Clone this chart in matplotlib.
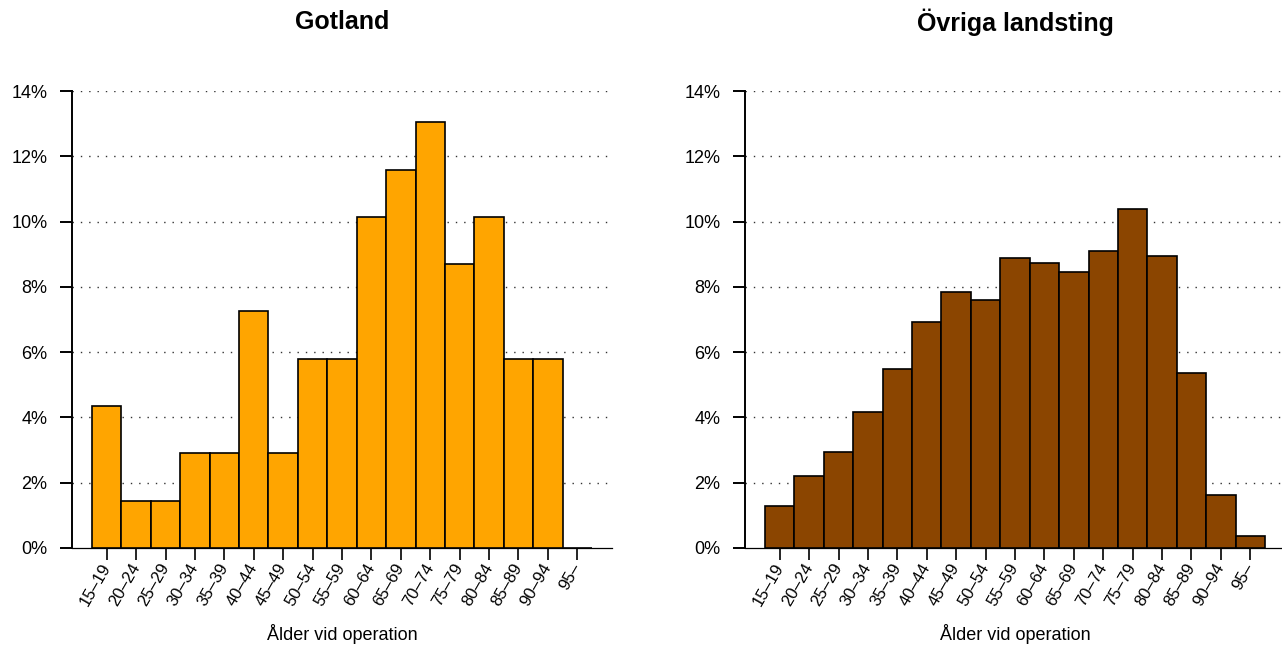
import numpy as np
import matplotlib.pyplot as plt

plt.rcParams['font.family'] = ['Liberation Sans', 'DejaVu Sans']

age_groups = ['15–19', '20–24', '25–29', '30–34', '35–39', '40–44', '45–49',
              '50–54', '55–59', '60–64', '65–69', '70–74', '75–79', '80–84',
              '85–89', '90–94', '95–']
gotland = [4.35, 1.45, 1.45, 2.90, 2.90, 7.25, 2.90, 5.80, 5.80, 10.14,
           11.59, 13.04, 8.70, 10.14, 5.80, 5.80, 0.0]
ovriga = [1.30, 2.21, 2.93, 4.18, 5.48, 6.93, 7.85, 7.60, 8.87, 8.72,
          8.44, 9.10, 10.40, 8.93, 5.36, 1.62, 0.36]
titles = ['Gotland', 'Övriga landsting']
colors = ['#FFA500', '#8B4500']
yticks = [0, 2, 4, 6, 8, 10, 12, 14]

W, H = 1282, 648
fig = plt.figure(figsize=(W / 100, H / 100), dpi=100)

bottom = (H - 548) / H
height = (548 - 91) / H
lefts = [72, 745]
width = 540 / W

for k, (vals, title, col) in enumerate(zip([gotland, ovriga], titles, colors)):
    ax = fig.add_axes([lefts[k] / W, bottom, width, height])
    x = np.arange(len(age_groups))
    for yv in yticks[1:]:
        ax.axhline(yv, color='#333333', lw=1, ls=(0, (1, 5)), zorder=0)
    ax.axhline(0, color='black', lw=0.9, zorder=1, clip_on=False)
    ax.bar(x, vals, width=1, align='edge', color=col, edgecolor='black',
           linewidth=1.2, zorder=2, clip_on=False)
    ax.set_xlim(-0.68, len(age_groups) + 0.68)
    ax.set_ylim(0, 14)

    for s in ['top', 'right', 'bottom']:
        ax.spines[s].set_visible(False)
    ax.spines['left'].set_linewidth(1.4)
    ax.spines['left'].set_bounds(0, 14)

    ax.set_yticks(yticks)
    ax.set_yticklabels([f'{v}%' for v in yticks], fontsize=13)
    ax.set_xticks(x + 0.5)
    ax.set_xticklabels(age_groups, rotation=60, ha='right', va='center',
                       rotation_mode='anchor', fontsize=12)
    ax.tick_params(axis='y', length=8.6, width=1.4, pad=9)
    ax.tick_params(axis='x', length=8.6, width=1.2, pad=3)

    cx = (lefts[k] + 270) / W
    fig.text(cx, 1 - 22 / H, title, ha='center', va='center',
             fontsize=18, fontweight='bold')
    fig.text(cx, 1 - 634 / H, 'Ålder vid operation', ha='center',
             va='center', fontsize=13)

fig.savefig('out.png', dpi=100)
